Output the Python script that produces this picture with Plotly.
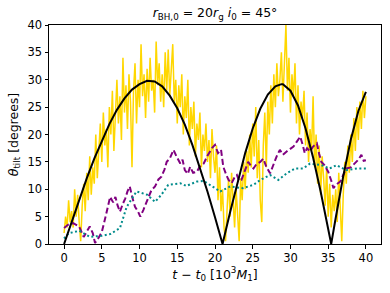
import plotly.graph_objects as go

# Black analytic-like curve
t_black = [0, 1, 2, 3, 4, 5, 6, 7, 8, 9, 10, 11, 11.4, 12, 13, 14, 15, 16, 17, 18, 19, 20, 21,
           22, 23, 24, 25, 26, 27, 28, 28.8, 29, 30, 31, 32, 33, 34, 35, 35.4,
           36, 37, 38, 39, 40]
theta_black = [0, 4.1, 8.1, 12.0, 15.6, 18.9, 21.9, 24.5, 26.6, 28.2, 29.2, 29.8, 29.8, 29.7, 28.8, 27.1,
               24.8, 21.8, 18.1, 14.0, 9.6, 4.9, 0,
               5.8, 11.4, 16.6, 21.1, 24.7, 27.3, 28.8, 29.2, 29.2, 28.0, 25.3, 21.1, 15.8, 9.6, 2.8, 0,
               4.8, 12.4, 19.1, 24.3, 27.8]

# Gold noisy simulation curve, sampled every 0.2
t_gold = [i * 0.2 for i in range(201)]
theta_gold = [
    2, 5, 3, 8, 4,
    6, 3, 10, 5, 9,
    4, 0.5, 7, 11, 6,
    13, 8, 16, 9, 14,
    11, 20, 12, 17, 22,
    15, 24, 18, 21, 14,
    25, 20, 28, 17, 23,
    30, 22, 27, 19, 34,
    24, 29, 21, 31, 26,
    14, 28, 33, 22, 30,
    25, 36.5, 27, 31, 23,
    32, 26, 34, 28, 30,
    24, 37, 29, 33, 26,
    31, 25, 35, 28, 35.5,
    27, 32, 36.5, 26, 30,
    22, 29, 25, 31, 20,
    27, 23, 30, 18, 25,
    21, 26, 16, 22, 19,
    24, 14, 20, 17, 22,
    15, 19, 12, 21, 16,
    13, 18, 8, 14, 6,
    10, 3, 0.5, 7, 12,
    5, 13, 8, 3, 10,
    6, 0.5, 12, 8, 15,
    10, 17, 13, 20, 14,
    22, 16, 25, 12, 19,
    8, 4, 18, 24, 14,
    26, 20, 29, 22, 31,
    25, 33, 27, 30, 35,
    26, 32, 40, 28, 34,
    24, 31, 27, 33, 22,
    29, 20, 26, 23, 28,
    18, 24, 15, 21, 17,
    27, 14, 20, 11, 18,
    9, 16, 12, 7, 14,
    5, 11, 3, 9, 6,
    10, 4, 13, 7, 0.5,
    9, 15, 11, 18, 13,
    20, 15, 23, 17, 25,
    19, 26, 21, 28, 23,
    27,
]

# Purple dashed curve
t_purple = [0, 0.5, 1.2, 2.0, 2.6, 3.0, 3.4, 3.8, 4.1, 4.6, 5.0, 5.5, 6.1, 6.5, 6.8, 7.1, 7.4, 7.8,
            8.1, 8.4, 8.7, 9.1, 9.4, 9.8, 10.1, 10.5, 10.9, 11.2, 11.6, 12.05, 12.5, 12.9, 13.3,
            13.6, 14.0, 14.5, 14.9, 15.4, 15.7, 16.0, 16.4, 16.7, 17.1, 17.6, 18.0, 18.5, 19.0,
            19.6, 20.0, 20.4, 20.8, 21.1, 21.5, 21.8, 22.2, 22.6, 22.9, 23.2, 23.5, 24.0, 24.4,
            24.8, 25.1, 25.5, 26.0, 26.4, 26.8, 27.3, 27.9, 28.2, 28.6, 29.0, 29.5, 30.0, 30.4,
            30.8, 31.3, 31.6, 31.9, 32.2, 32.6, 33.0, 33.5, 33.8, 34.1, 34.5, 35.0, 35.4, 35.7,
            36.1, 36.6, 37.0, 37.4, 38.0, 38.5, 39.0, 39.4, 39.7, 40.0]
theta_purple = [2.9, 3.5, 3.8, 3.2, 1.3, 2.4, 3.2, 2.0, 0.2, 1.2, 2.2, 5.0, 8.6, 7.6, 8.6, 7.0, 5.9, 7.4,
                8.3, 9.6, 10.5, 8.2, 6.8, 5.9, 5.0, 6.2, 7.8, 8.6, 9.9, 10.5, 11.8, 12.3, 13.6,
                15.0, 15.6, 17.2, 16.0, 14.7, 15.4, 13.5, 12.8, 14.1, 13.0, 13.2, 14.2, 14.7, 16.1,
                17.5, 18.1, 16.6, 17.2, 14.1, 12.6, 11.7, 11.1, 12.2, 12.6, 11.5, 11.7, 13.4, 15.0,
                14.2, 13.8, 14.6, 15.0, 15.6, 14.1, 12.9, 15.3, 16.1, 17.2, 16.3, 16.9, 17.4, 17.8,
                18.6, 19.6, 18.2, 16.6, 17.5, 16.9, 17.8, 18.4, 16.5, 15.0, 14.4, 13.2, 11.6, 10.2,
                10.9, 11.4, 12.6, 13.8, 14.0, 14.7, 15.4, 16.3, 15.2, 15.3]

# Teal dotted curve
t_teal = [0, 0.6, 2.0, 3.4, 5.0, 6.1, 7.4, 8.3, 9.6, 11.0, 12.05, 12.9, 13.8, 15.4, 16.2, 17.6,
          18.5, 19.3, 20.7, 22.0, 23.7, 25.1, 26.0, 27.3, 28.4, 29.5, 30.6, 31.7, 32.6, 34.1,
          35.2, 36.1, 37.4, 38.8, 40.0]
theta_teal = [1.0, 1.95, 2.4, 1.3, 1.5, 1.8, 2.9, 6.8, 9.6, 9.0, 7.7, 9.0, 10.8, 11.1, 10.6, 11.4,
              11.5, 10.8, 9.6, 10.5, 10.2, 10.8, 11.7, 12.6, 11.7, 12.9, 13.8, 13.8, 14.7, 14.4,
              13.8, 14.4, 13.5, 13.8, 13.8]

fig = go.Figure()
fig.add_trace(go.Scatter(x=t_gold, y=theta_gold, mode="lines",
                         line=dict(color="#FFD700", width=1.5), showlegend=False))
fig.add_trace(go.Scatter(x=t_purple, y=theta_purple, mode="lines",
                         line=dict(color="purple", width=2, dash="6px,3px"), showlegend=False))
fig.add_trace(go.Scatter(x=t_teal, y=theta_teal, mode="lines",
                         line=dict(color="#008B8B", width=2, dash="2px,2.5px"), showlegend=False))
fig.add_trace(go.Scatter(x=t_black, y=theta_black, mode="lines",
                         line=dict(color="black", width=2), showlegend=False))

font = "DejaVu Sans"
fig.update_layout(
    width=390, height=293,
    margin=dict(l=49, r=9, t=25, b=49, autoexpand=False),
    paper_bgcolor="white", plot_bgcolor="white",
    font=dict(family=font, size=12, color="black"),
    title=dict(text="<i>r</i><sub>BH,0</sub> = 20<i>r</i><sub>g</sub> <i>i</i><sub>0</sub> = 45°",
               x=(49 + 381) / 2 / 390, xanchor="center", y=1 - 13 / 293, yanchor="middle",
               font=dict(family=font, size=12.5)),
)
fig.update_xaxes(range=[-2, 42], tickvals=[0, 5, 10, 15, 20, 25, 30, 35, 40], automargin=False,
                 showgrid=False, zeroline=False, showline=True, linecolor="black", linewidth=1,
                 mirror=True, ticks="outside", ticklen=3.5, tickcolor="black",
                 tickfont=dict(size=11.5),
                 title=dict(text="<i>t</i> − <i>t</i><sub>0</sub> [10<sup>3</sup><i>M</i><sub>1</sub>]",
                            font=dict(size=12.5), standoff=4))
fig.update_yaxes(range=[0, 40], tickvals=[0, 5, 10, 15, 20, 25, 30, 35, 40], automargin=False,
                 showgrid=False, zeroline=False, showline=True, linecolor="black", linewidth=1,
                 mirror=True, ticks="outside", ticklen=3.5, tickcolor="black",
                 tickfont=dict(size=11.5),
                 title=dict(text="<i>θ</i><sub>tilt</sub> [degrees]", font=dict(size=12.5), standoff=6))

fig.write_html("out.html", config={"displayModeBar": False},
               post_script="document.body.style.margin='0';document.body.style.overflow='hidden';")
